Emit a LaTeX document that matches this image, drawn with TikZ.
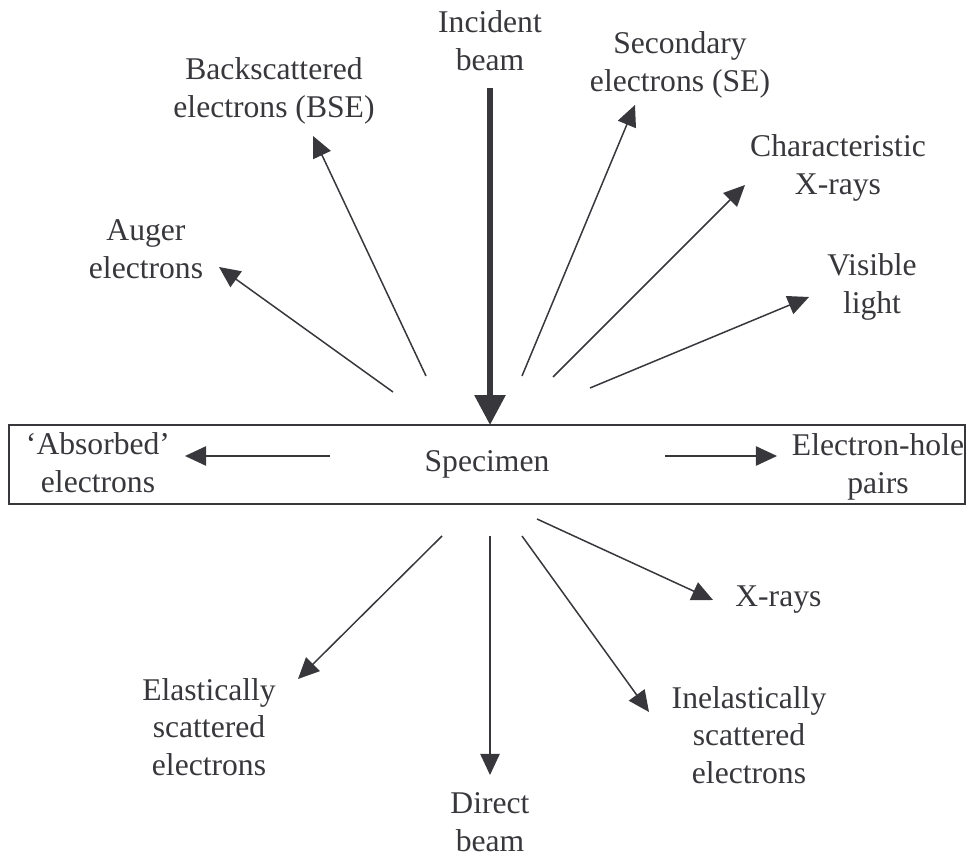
\documentclass[tikz,border=0pt]{standalone}
\usepackage{fontspec}
\setmainfont{Liberation Serif}
\usetikzlibrary{arrows.meta,positioning}
\definecolor{inkgray}{RGB}{55,55,60}
\tikzset{
  textlabel/.style = {align=center, inner sep=0pt, text=inkgray, font=\fontsize{18}{21.5}\selectfont},
  emission/.style = {-{Triangle[length=12pt,width=11pt]}, draw=inkgray, line width=0.85pt},
  incidentbeam/.style = {-{Triangle[length=17pt,width=17pt]}, draw=inkgray, line width=3.4pt},
  specimenbox/.style = {draw=inkgray, line width=0.85pt, text=inkgray, inner sep=0pt,
    minimum width=19.12cm, minimum height=1.58cm, font=\fontsize{18}{21.5}\selectfont},
}

\begin{document}
\begin{tikzpicture}[x=0.02cm, y=-0.02cm]
\useasboundingbox (0,0) rectangle (971,858);

% Specimen
\node[specimenbox] (specimen) at (487,464.5) {Specimen};
\node[textlabel] (absorbed) at (98,463) {`Absorbed'\\electrons};
\node[textlabel] (ehpairs) at (878,467) {Electron-hole\\pairs};

% Incident beam
\node[textlabel] (incident) at (490,41) {Incident\\beam};
\coordinate (inS) at (490,88);
\coordinate (inE) at (490,425);
\draw[incidentbeam] (inS) -- (inE);

% Signals above the specimen
\node[textlabel] (auger) at (146,249) {Auger\\electrons};
\node[textlabel] (bse) at (274,91) {Backscattered\\electrons (BSE)};
\node[textlabel] (se) at (680,65) {Secondary\\electrons (SE)};
\node[textlabel] (charx) at (838,168) {Characteristic\\X-rays};
\node[textlabel] (visible) at (872,287) {Visible\\light};

\coordinate (augS) at (393,392);  \coordinate (augE) at (219,267);
\coordinate (bseS) at (426,376);  \coordinate (bseE) at (313,136);
\coordinate (seS) at (522,376);   \coordinate (seE) at (635,105);
\coordinate (chS) at (553,377);   \coordinate (chE) at (745,185);
\coordinate (visS) at (590,388);  \coordinate (visE) at (809,297);

\draw[emission] (augS) -- (augE);
\draw[emission] (bseS) -- (bseE);
\draw[emission] (seS) -- (seE);
\draw[emission] (chS) -- (chE);
\draw[emission] (visS) -- (visE);

% Inside the specimen
\coordinate (absS) at (330,456);  \coordinate (absE) at (185,456);
\coordinate (ehS) at (665,456);   \coordinate (ehE) at (777,456);
\draw[emission] (absS) -- (absE);
\draw[emission] (ehS) -- (ehE);

% Signals below the specimen
\node[textlabel] (elastic) at (209,727) {Elastically\\scattered\\electrons};
\node[textlabel] (direct) at (490,822) {Direct\\beam};
\node[textlabel] (inelastic) at (749,735) {Inelastically\\scattered\\electrons};
\node[textlabel, anchor=west] (xrays) at (735,600) {X-rays};

\coordinate (elS) at (442,536);   \coordinate (elE) at (298,679);
\coordinate (dirS) at (490,536);  \coordinate (dirE) at (490,775);
\coordinate (inelS) at (522,536); \coordinate (inelE) at (649,712);
\coordinate (xrS) at (537,519);   \coordinate (xrE) at (713,600);

\draw[emission] (elS) -- (elE);
\draw[emission] (dirS) -- (dirE);
\draw[emission] (inelS) -- (inelE);
\draw[emission] (xrS) -- (xrE);

\end{tikzpicture}
\end{document}
